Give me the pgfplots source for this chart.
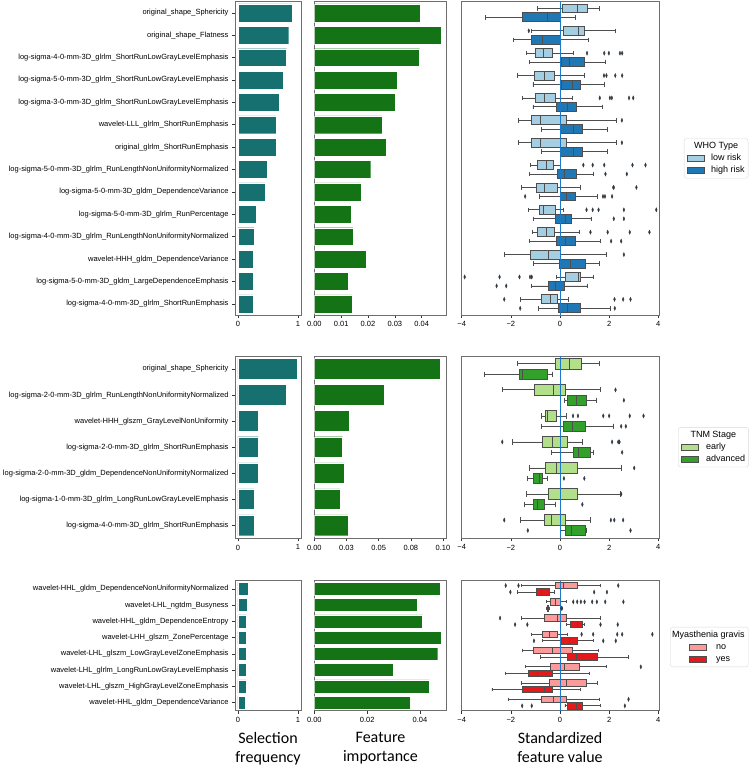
\documentclass[border=0pt]{standalone}
\usepackage{fontspec}
\setmainfont{Liberation Sans}
\newfontfamily\carlito{Carlito}
\usepackage{pgfplots}
\pgfplotsset{compat=1.18}
\usepgfplotslibrary{statistics}

\definecolor{teal1}{RGB}{22,112,112}
\definecolor{green1}{RGB}{20,115,20}
\definecolor{lblue}{HTML}{A6CEE3}
\definecolor{dblue}{HTML}{1F78B4}
\definecolor{lgreen}{HTML}{B2DF8A}
\definecolor{dgreen}{HTML}{33A02C}
\definecolor{lred}{HTML}{FB9A99}
\definecolor{dred}{HTML}{E31A1C}
\definecolor{bline}{RGB}{78,78,78}
\definecolor{outc}{RGB}{50,58,66}
\definecolor{zline}{RGB}{30,120,200}
\definecolor{frame}{RGB}{110,110,110}

\pgfplotsset{
  base/.style={scale only axis, anchor=north west,
    axis line style={frame, line width=0.8pt},
    tick style={black!80, line width=0.6pt}, tick align=outside,
    major tick length=3pt, xtick pos=bottom, ytick pos=left,
    tick label style={font=\fontsize{7.5}{9}\selectfont},
    scaled x ticks=false,
    y dir=reverse},
  bxs/.style={draw=bline, line width=0.8pt, mark=diamond*, mark size=2.1pt,
    mark options={fill=outc, draw=outc, xscale=0.6, line width=0.3pt, solid},
    boxplot/box extend=0.4, boxplot/whisker extend=0.2},
  swatch/.style n args={4}{legend image code/.code={\path (-#1,0pt) (17pt+#2,0pt);
      \draw[fill=#3, draw=#4, line width=0.8pt, sharp corners] (0pt,-3pt) rectangle (17pt,3pt);}},
  legbase/.style={legend cell align=left,
    legend style={draw=black!15, rounded corners=2.5pt,
      font=\fontsize{9}{10.8}\selectfont, anchor=west,
      inner xsep=2pt, inner ysep=2pt, row sep=0.6pt,
      nodes={inner sep=1.5pt, text height=6.6pt, text depth=1.9pt}}},
  blab/.style={xlabel style={align=center, font=\carlito\fontsize{16}{19}\selectfont, yshift=-3pt}},
}
\newcommand{\bp}[8]{\addplot[#1, boxplot prepared={draw position=#2, lower whisker=#3,
  lower quartile=#4, median=#5, upper quartile=#6, upper whisker=#7}] coordinates {#8};}

\begin{document}
\begin{tikzpicture}
\useasboundingbox (0,0) rectangle (750pt,-766pt);

% ================= ROW 1 =================
\begin{axis}[base, at={(235pt,-1.7pt)}, width=66pt, height=313.3pt,
  xmin=-0.05, xmax=1.05, ymin=-0.5, ymax=13.5,
  xtick={0,1}, xticklabels={0,1}, ytick={0,...,13},
  yticklabels={original\_shape\_Sphericity, original\_shape\_Flatness,
  log-sigma-4-0-mm-3D\_glrlm\_ShortRunLowGrayLevelEmphasis,
  log-sigma-5-0-mm-3D\_glrlm\_ShortRunLowGrayLevelEmphasis,
  log-sigma-3-0-mm-3D\_glrlm\_ShortRunLowGrayLevelEmphasis,
  wavelet-LLL\_glrlm\_ShortRunEmphasis, original\_glrlm\_ShortRunEmphasis,
  log-sigma-5-0-mm-3D\_glrlm\_RunLengthNonUniformityNormalized,
  log-sigma-5-0-mm-3D\_gldm\_DependenceVariance,
  log-sigma-5-0-mm-3D\_glrlm\_RunPercentage,
  log-sigma-4-0-mm-3D\_glrlm\_RunLengthNonUniformityNormalized,
  wavelet-HHH\_gldm\_DependenceVariance,
  log-sigma-5-0-mm-3D\_gldm\_LargeDependenceEmphasis,
  log-sigma-4-0-mm-3D\_glrlm\_ShortRunEmphasis}]
\addplot[xbar, fill=teal1, draw=white, line width=0.4pt, bar width=0.8] coordinates {
 (0.90,0) (0.845,1) (0.81,2) (0.75,3) (0.69,4) (0.63,5) (0.63,6) (0.49,7)
 (0.45,8) (0.30,9) (0.27,10) (0.26,11) (0.26,12) (0.25,13)};
\end{axis}

\begin{axis}[base, at={(314.3pt,-1.7pt)}, width=132.4pt, height=313.3pt,
  xmin=0, xmax=0.0493, ymin=-0.5, ymax=13.5,
  xtick={0,0.01,0.02,0.03,0.04}, xticklabels={0.00,0.01,0.02,0.03,0.04}, ytick=\empty]
\addplot[xbar, fill=green1, draw=white, line width=0.4pt, bar width=0.8] coordinates {
 (0.0394,0) (0.0473,1) (0.0392,2) (0.0307,3) (0.0302,4) (0.0253,5) (0.0269,6)
 (0.0210,7) (0.0173,8) (0.0136,9) (0.0144,10) (0.0194,11) (0.0126,12) (0.0141,13)};
\end{axis}

\begin{axis}[base, legbase, at={(461pt,-1.7pt)}, width=198pt, height=313.3pt,
  xmin=-4.03, xmax=4.03, ymin=-0.5, ymax=13.5,
  xtick={-4,-2,0,2,4}, xticklabels={−4,−2,0,2,4}, ytick=\empty,
  boxplot/draw direction=x,
  legend style={at={(1.126,0.5)}}]
\addlegendimage{empty legend}\addlegendentry{\hspace{-17pt}WHO Type}
\addlegendimage{swatch={1pt}{5pt}{lblue}{bline}}\addlegendentry{low risk}
\addlegendimage{swatch={1pt}{5pt}{dblue}{bline}}\addlegendentry{high risk}
\bp{bxs,fill=lblue}{-0.2}{-0.92}{0.10}{0.72}{1.12}{1.62}{}
\bp{bxs,fill=dblue}{0.2}{-3.04}{-1.53}{-0.51}{0.0}{0.62}{}
\bp{bxs,fill=lblue}{0.8}{-1.18}{0.14}{0.76}{1.01}{2.26}{(0,-1.27)}
\bp{bxs,fill=dblue}{1.2}{-1.89}{-1.16}{-0.70}{0.0}{1.16}{}
\bp{bxs,fill=lblue}{1.8}{-1.38}{-0.99}{-0.66}{-0.31}{0.54}{(0,1.10) (0,1.80) (0,1.99) (0,2.44) (0,2.53)}
\bp{bxs,fill=dblue}{2.2}{-1.23}{0.04}{0.37}{1.0}{1.84}{}
\bp{bxs,fill=lblue}{2.8}{-1.73}{-1.03}{-0.62}{-0.23}{0.99}{(0,1.79) (0,1.89) (0,2.25) (0,2.53)}
\bp{bxs,fill=dblue}{3.2}{-1.10}{0.04}{0.49}{0.85}{1.81}{}
\bp{bxs,fill=lblue}{3.8}{-1.53}{-0.99}{-0.65}{-0.19}{0.51}{(0,1.62) (0,2.03) (0,2.11) (0,2.81) (0,2.98)}
\bp{bxs,fill=dblue}{4.2}{-1.10}{-0.15}{0.32}{0.68}{1.73}{}
\bp{bxs,fill=lblue}{4.8}{-1.69}{-1.15}{-0.78}{0.26}{2.30}{(0,2.52)}
\bp{bxs,fill=dblue}{5.2}{-0.76}{0.0}{0.55}{0.92}{1.92}{}
\bp{bxs,fill=lblue}{5.8}{-1.69}{-1.15}{-0.78}{0.26}{2.30}{(0,2.52)}
\bp{bxs,fill=dblue}{6.2}{-0.76}{0.0}{0.55}{0.92}{1.92}{}
\bp{bxs,fill=lblue}{6.8}{-1.19}{-0.92}{-0.54}{-0.27}{0.0}{(0,0.95) (0,1.33) (0,1.80) (0,2.95) (0,3.48)}
\bp{bxs,fill=dblue}{7.2}{-1.23}{-0.11}{0.19}{0.65}{1.35}{(0,1.85) (0,2.72)}
\bp{bxs,fill=lblue}{7.8}{-1.56}{-0.95}{-0.62}{-0.11}{0.85}{(0,2.17) (0,2.19) (0,3.11)}
\bp{bxs,fill=dblue}{8.2}{-0.85}{0.0}{0.26}{0.64}{1.52}{(0,-1.42) (0,1.75) (0,1.83) (0,2.12)}
\bp{bxs,fill=lblue}{8.8}{-1.29}{-0.83}{-0.69}{-0.20}{0.15}{(0,1.08) (0,1.33) (0,1.57) (0,2.60) (0,3.92)}
\bp{bxs,fill=dblue}{9.2}{-1.08}{-0.19}{0.22}{0.46}{1.26}{(0,2.19) (0,2.60)}
\bp{bxs,fill=lblue}{9.8}{-1.11}{-0.91}{-0.57}{-0.22}{0.77}{(0,1.24) (0,1.94) (0,2.84) (0,3.64)}
\bp{bxs,fill=dblue}{10.2}{-1.23}{-0.14}{0.23}{0.62}{1.65}{(0,2.08) (0,2.49)}
\bp{bxs,fill=lblue}{10.8}{-2.27}{-1.22}{-0.49}{0.0}{1.87}{(0,2.60)}
\bp{bxs,fill=dblue}{11.2}{-1.08}{-0.01}{0.43}{1.03}{1.62}{}
\bp{bxs,fill=lblue}{11.8}{-0.14}{0.23}{0.73}{0.85}{1.37}{(0,-3.88) (0,-2.46) (0,-1.65) (0,-1.22) (0,-1.15)}
\bp{bxs,fill=dblue}{12.2}{-1.18}{-0.47}{-0.20}{0.19}{1.10}{(0,-2.58) (0,-2.19)}
\bp{bxs,fill=lblue}{12.8}{-1.61}{-0.74}{-0.41}{-0.11}{0.34}{(0,-2.27) (0,2.22) (0,2.57) (0,2.87)}
\bp{bxs,fill=dblue}{13.2}{-0.87}{-0.07}{0.32}{0.84}{2.06}{(0,-1.62) (0,2.23)}
\addplot[zline, line width=0.9pt, forget plot] coordinates {(0,-0.5) (0,13.5)};
\end{axis}

% ================= ROW 2 =================
\begin{axis}[base, at={(235pt,-356pt)}, width=66pt, height=182.3pt,
  xmin=-0.05, xmax=1.05, ymin=-0.5, ymax=6.5,
  xtick={0,1}, xticklabels={0,1}, ytick={0,...,6},
  yticklabels={original\_shape\_Sphericity,
  log-sigma-2-0-mm-3D\_glrlm\_RunLengthNonUniformityNormalized,
  wavelet-HHH\_glszm\_GrayLevelNonUniformity,
  log-sigma-2-0-mm-3D\_glrlm\_ShortRunEmphasis,
  log-sigma-2-0-mm-3D\_gldm\_DependenceNonUniformityNormalized,
  log-sigma-1-0-mm-3D\_glrlm\_LongRunLowGrayLevelEmphasis,
  log-sigma-4-0-mm-3D\_glrlm\_ShortRunEmphasis}]
\addplot[xbar, fill=teal1, draw=white, line width=0.4pt, bar width=0.8] coordinates {
 (0.98,0) (0.81,1) (0.345,2) (0.34,3) (0.335,4) (0.27,5) (0.265,6)};
\end{axis}

\begin{axis}[base, at={(314.3pt,-356pt)}, width=132.4pt, height=182.3pt,
  xmin=0, xmax=0.1029, ymin=-0.5, ymax=6.5,
  xtick={0,0.025,0.05,0.075,0.1}, xticklabels={0.00,0.03,0.05,0.08,0.10}, ytick=\empty]
\addplot[xbar, fill=green1, draw=white, line width=0.4pt, bar width=0.8] coordinates {
 (0.098,0) (0.054,1) (0.027,2) (0.022,3) (0.0235,4) (0.020,5) (0.026,6)};
\end{axis}

\begin{axis}[base, legbase, at={(461pt,-356pt)}, width=198pt, height=182.3pt,
  xmin=-4.03, xmax=4.03, ymin=-0.5, ymax=6.5,
  xtick={-4,-2,0,2,4}, xticklabels={−4,−2,0,2,4}, ytick=\empty,
  boxplot/draw direction=x,
  legend style={at={(1.096,0.5)}}]
\addlegendimage{empty legend}\addlegendentry{\hspace{-15.6pt}TNM Stage}
\addlegendimage{swatch={1pt}{6pt}{lgreen}{bline}}\addlegendentry{early}
\addlegendimage{swatch={1pt}{6pt}{dgreen}{bline}}\addlegendentry{advanced}
\bp{bxs,fill=lgreen}{-0.2}{-1.72}{-0.19}{0.37}{0.87}{1.61}{}
\bp{bxs,fill=dgreen}{0.2}{-3.06}{-1.65}{-1.53}{-0.51}{-0.32}{}
\bp{bxs,fill=lgreen}{0.8}{-2.34}{-1.03}{-0.26}{0.20}{1.65}{(0,2.26)}
\bp{bxs,fill=dgreen}{1.2}{0.19}{0.30}{0.68}{1.07}{1.47}{(0,2.60)}
\bp{bxs,fill=lgreen}{1.8}{-0.77}{-0.60}{-0.50}{-0.16}{0.26}{(0,0.53) (0,0.73) (0,1.76) (0,2.00) (0,2.84) (0,3.40)}
\bp{bxs,fill=dgreen}{2.2}{-0.77}{0.15}{0.51}{1.04}{2.17}{(0,2.49) (0,2.68)}
\bp{bxs,fill=lgreen}{2.8}{-1.95}{-0.73}{-0.30}{0.32}{0.92}{(0,-2.35) (0,2.12) (0,2.37) (0,2.42)}
\bp{bxs,fill=dgreen}{3.2}{-0.34}{0.54}{0.76}{1.23}{1.37}{(0,2.53)}
\bp{bxs,fill=lgreen}{3.8}{-1.26}{-0.60}{-0.14}{0.69}{2.49}{(0,3.02)}
\bp{bxs,fill=dgreen}{4.2}{-1.34}{-1.08}{-0.84}{-0.73}{-0.50}{(0,0.16) (0,0.99)}
\bp{bxs,fill=lgreen}{4.8}{-1.38}{-0.46}{0.0}{0.70}{2.46}{(0,2.49)}
\bp{bxs,fill=dgreen}{5.2}{-1.43}{-1.07}{-0.91}{-0.65}{-0.20}{(0,0.91)}
\bp{bxs,fill=lgreen}{5.8}{-1.61}{-0.62}{-0.35}{0.24}{1.23}{(0,-2.27) (0,2.07) (0,2.21) (0,2.57)}
\bp{bxs,fill=dgreen}{6.2}{0.0}{0.22}{0.47}{1.04}{1.08}{(0,-1.31) (0,2.87)}
\addplot[zline, line width=0.9pt, forget plot] coordinates {(0,-0.5) (0,6.5)};
\end{axis}

% ================= ROW 3 =================
\begin{axis}[base, blab, at={(235pt,-580.7pt)}, width=66pt, height=130pt,
  xmin=-0.05, xmax=1.05, ymin=-0.5, ymax=7.5,
  xtick={0,1}, xticklabels={0,1}, ytick={0,...,7},
  xlabel={Selection\\frequency},
  yticklabels={wavelet-HHL\_gldm\_DependenceNonUniformityNormalized,
  wavelet-LHL\_ngtdm\_Busyness, wavelet-HHL\_gldm\_DependenceEntropy,
  wavelet-LHH\_glszm\_ZonePercentage, wavelet-LHL\_glszm\_LowGrayLevelZoneEmphasis,
  wavelet-LHL\_glrlm\_LongRunLowGrayLevelEmphasis,
  wavelet-LHL\_glszm\_HighGrayLevelZoneEmphasis,
  wavelet-HHL\_gldm\_DependenceVariance}]
\addplot[xbar, fill=teal1, draw=white, line width=0.4pt, bar width=0.8] coordinates {
 (0.176,0) (0.148,1) (0.143,2) (0.137,3) (0.13,4) (0.13,5) (0.13,6) (0.126,7)};
\end{axis}

\begin{axis}[base, blab, at={(314.3pt,-580.7pt)}, width=132.4pt, height=130pt,
  xmin=0, xmax=0.0501, ymin=-0.5, ymax=7.5,
  xtick={0,0.02,0.04}, xticklabels={0.00,0.02,0.04}, ytick=\empty,
  xlabel={Feature\\importance}]
\addplot[xbar, fill=green1, draw=white, line width=0.4pt, bar width=0.8] coordinates {
 (0.0477,0) (0.039,1) (0.041,2) (0.048,3) (0.0467,4) (0.0299,5) (0.0435,6) (0.0363,7)};
\end{axis}

\begin{axis}[base, blab, legbase, at={(461pt,-580.7pt)}, width=198pt, height=130pt,
  xmin=-4.03, xmax=4.03, ymin=-0.5, ymax=7.5,
  xtick={-4,-2,0,2,4}, xticklabels={−4,−2,0,2,4}, ytick=\empty,
  xlabel={Standardized\\feature value},
  boxplot/draw direction=x,
  legend style={at={(1.056,0.49)}}]
\addlegendimage{empty legend}\addlegendentry{\hspace{-44pt}Myasthenia gravis}
\addlegendimage{swatch={17pt}{8pt}{lred}{bline}}\addlegendentry{no}
\addlegendimage{swatch={17pt}{8pt}{dred}{bline}}\addlegendentry{yes}
\bp{bxs,fill=lred}{-0.2}{-1.56}{-0.20}{0.12}{0.72}{1.64}{(0,-2.21) (0,-1.69) (0,2.37)}
\bp{bxs,fill=dred}{0.2}{-1.72}{-0.97}{-0.74}{-0.43}{-0.23}{(0,-2.02) (0,1.39) (0,1.91)}
\bp{bxs,fill=lred}{0.8}{-0.54}{-0.38}{-0.19}{0.0}{0.28}{(0,0.54) (0,0.70) (0,0.85) (0,1.00) (0,1.31) (0,1.50) (0,1.84) (0,2.58)}
\bp{bxs,fill=dred}{1.2}{-0.56}{-0.52}{-0.50}{-0.47}{-0.44}{(0,0.06) (0,0.08)}
\bp{bxs,fill=lred}{1.8}{-1.58}{-0.65}{-0.11}{0.26}{1.64}{(0,-2.44)}
\bp{bxs,fill=dred}{2.2}{0.26}{0.43}{0.69}{0.91}{1.00}{(0,-1.83) (0,-1.33) (0,1.65) (0,2.35)}
\bp{bxs,fill=lred}{2.8}{-1.15}{-0.72}{-0.42}{-0.11}{0.30}{(0,0.88) (0,1.35) (0,2.33) (0,2.53) (0,3.76)}
\bp{bxs,fill=dred}{3.2}{-0.73}{0.04}{0.38}{0.72}{1.35}{(0,-1.06) (0,1.76) (0,2.27)}
\bp{bxs,fill=lred}{3.8}{-1.53}{-1.08}{-0.30}{0.49}{1.56}{}
\bp{bxs,fill=dred}{4.2}{-0.78}{0.32}{0.68}{1.54}{2.79}{}
\bp{bxs,fill=lred}{4.8}{-1.41}{-0.41}{0.19}{0.77}{1.87}{(0,3.29)}
\bp{bxs,fill=dred}{5.2}{-2.22}{-1.27}{-0.92}{-0.31}{1.20}{}
\bp{bxs,fill=lred}{5.8}{-1.58}{-0.45}{0.27}{1.08}{1.53}{}
\bp{bxs,fill=dred}{6.2}{-2.77}{-1.54}{-0.64}{-0.31}{0.83}{}
\bp{bxs,fill=lred}{6.8}{-2.12}{-0.74}{-0.27}{0.26}{1.62}{(0,2.79)}
\bp{bxs,fill=dred}{7.2}{0.20}{0.32}{0.65}{0.93}{1.64}{(0,-1.54) (0,-1.15) (0,2.64)}
\addplot[zline, line width=0.9pt, forget plot] coordinates {(0,-0.5) (0,7.5)};
\end{axis}
\end{tikzpicture}
\end{document}
